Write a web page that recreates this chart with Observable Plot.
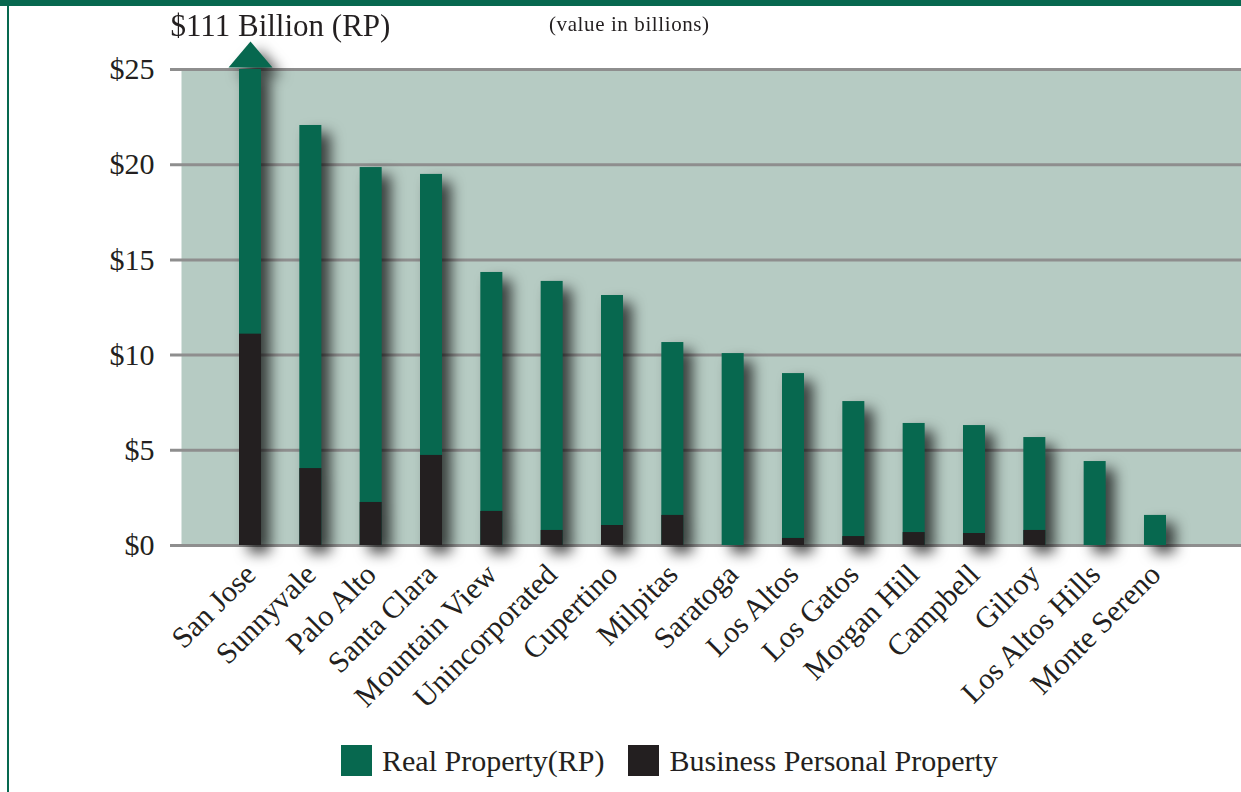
<!DOCTYPE html>
<html>
<head>
<meta charset="utf-8">
<script src="https://cdn.jsdelivr.net/npm/d3@7"></script>
<script src="https://cdn.jsdelivr.net/npm/@observablehq/plot@0.6"></script>
<style>
  html, body { margin: 0; padding: 0; background: #fff; }
  #page { position: relative; width: 1241px; height: 792px; overflow: hidden; font-family: "Liberation Serif", "DejaVu Serif", serif; color: #231f20; }
  #topbar { position: absolute; left: 0; top: 0; width: 1241px; height: 6px; background: #07684f; }
  #leftbar { position: absolute; left: 7px; top: 0; width: 2px; height: 792px; background: #07684f; }
  #chart { position: absolute; left: 0; top: 0; }
  #note { position: absolute; left: 549px; top: 14px; font-size: 21px; line-height: 1; letter-spacing: 0.6px; }
  #legend { position: absolute; left: 341px; top: 745px; display: flex; align-items: center; font-size: 30px; line-height: 31px; }
  .sw { width: 31px; height: 31px; margin-right: 10px; }
  .item { display: flex; align-items: center; margin-right: 24px; }
</style>
</head>
<body>
<div id="page">
  <div id="chart"></div>
  <div id="topbar"></div>
  <div id="leftbar"></div>
  <div id="note">(value in billions)</div>
  <div id="legend"></div>
</div>
<script>
const cities = ["San Jose", "Sunnyvale", "Palo Alto", "Santa Clara", "Mountain View", "Unincorporated", "Cupertino", "Milpitas", "Saratoga", "Los Altos", "Los Gatos", "Morgan Hill", "Campbell", "Gilroy", "Los Altos Hills", "Monte Sereno"];
const realProperty = [111, 22.06, 19.85, 19.49, 14.34, 13.87, 13.13, 10.66, 10.08, 9.03, 7.56, 6.41, 6.30, 5.67, 4.41, 1.58];
const businessPersonal = [11.1, 4.04, 2.26, 4.73, 1.79, 0.79, 1.05, 1.58, 0, 0.37, 0.47, 0.68, 0.63, 0.79, 0, 0];
const yTicks = [0, 5, 10, 15, 20, 25];
const seriesNames = ["Real Property(RP)", "Business Personal Property"];
const seriesColors = ["#07684f", "#231f20"];

const yMax = yTicks[yTicks.length - 1];
const data = cities.map((city, i) => ({city, rp: realProperty[i], bpp: businessPersonal[i]}));
const overflow = data.filter(d => d.rp > yMax);

const arrowHead = {
  draw(ctx) {
    ctx.moveTo(0, -26);
    ctx.lineTo(22, 0);
    ctx.lineTo(-22, 0);
    ctx.closePath();
  }
};

const plot = Plot.plot({
  width: 1241,
  height: 720,
  marginLeft: 170,
  marginRight: 0,
  marginTop: 69,
  marginBottom: 175,
  style: {fontFamily: "'Liberation Serif', 'DejaVu Serif', serif", fontSize: "30px", color: "#231f20", background: "transparent", overflow: "visible"},
  x: {domain: cities, range: [239, 1166], paddingInner: 0.635, paddingOuter: 0, round: false, tickRotate: -45, tickSize: 0, tickPadding: 24, label: null},
  y: {domain: [0, yMax], ticks: yTicks, tickFormat: d => "$" + d, tickSize: 0, tickPadding: 16, label: null},
  marks: [
    Plot.frame({fill: "#b6cbc3", stroke: null, insetLeft: 11}),
    Plot.ruleY(yTicks, {stroke: "#8e8e8e", strokeWidth: 3}),
    Plot.barY(data, {x: "city", y1: 0, y2: d => Math.min(d.rp, yMax), fill: seriesColors[0]}),
    Plot.barY(data.filter(d => d.bpp > 0), {x: "city", y1: 0, y2: "bpp", fill: seriesColors[1]}),
    Plot.dot(overflow, {x: "city", y: d => yMax, symbol: arrowHead, fill: seriesColors[0], stroke: null, dy: -2}),
    Plot.text(overflow, {x: "city", y: d => yMax, text: d => `$${d.rp} Billion (RP)`, textAnchor: "start", lineAnchor: "bottom", dx: -80, dy: -34, fontSize: 31, fill: "#231f20"})
  ]
});

// group bars and arrow head under one soft drop shadow
const groups = plot.querySelectorAll('g[aria-label="bar"], g[aria-label="dot"]');
if (groups.length) {
  const wrap = document.createElementNS("http://www.w3.org/2000/svg", "g");
  wrap.setAttribute("style", "filter: drop-shadow(9px 8px 7px rgba(0,0,0,0.7))");
  groups[0].parentNode.insertBefore(wrap, groups[0]);
  groups.forEach(g => wrap.appendChild(g));
}
document.getElementById("chart").appendChild(plot);

const legend = d3.select("#legend");
seriesNames.forEach((name, i) => {
  const item = legend.append("div").attr("class", "item");
  item.append("div").attr("class", "sw").style("background", seriesColors[i]);
  item.append("span").text(name);
});
</script>
</body>
</html>
